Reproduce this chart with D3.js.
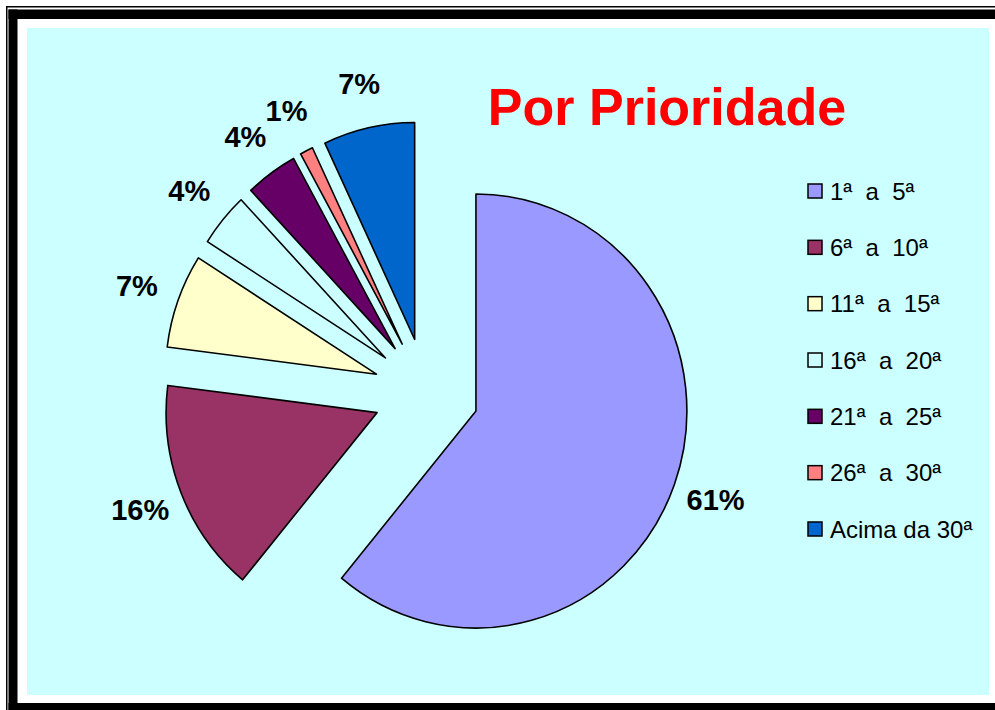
<!DOCTYPE html>
<html>
<head>
<meta charset="utf-8">
<script src="https://cdn.jsdelivr.net/npm/d3@7"></script>
<style>
  html, body { margin: 0; padding: 0; background: #ffffff; }
  svg { display: block; }
  text { font-family: Arial, "Liberation Sans", sans-serif; }
</style>
</head>
<body>
<div id="chart"></div>
<script>
// ---- data ----
const categories = ["1ª  a  5ª", "6ª  a  10ª", "11ª  a  15ª", "16ª  a  20ª", "21ª  a  25ª", "26ª  a  30ª", "Acima da 30ª"];
const values = [61, 16, 7, 4, 4, 1, 7];
const percentLabels = ["61%", "16%", "7%", "4%", "4%", "1%", "7%"];
const palette = ["#9999FF", "#993366", "#FFFFCC", "#CCFFFF", "#660066", "#FF8080", "#0066CC"];
const title = "Por Prioridade";

// ---- layout ----
const W = 995, H = 710;
const svg = d3.select("#chart").append("svg").attr("width", W).attr("height", H);
svg.append("rect").attr("width", W).attr("height", H).attr("fill", "#ffffff");

// double frame
const frame = svg.append("g").attr("fill", "#000");
frame.append("rect").attr("x", 6).attr("y", 6).attr("width", 1.5).attr("height", 720);
frame.append("rect").attr("x", 6).attr("y", 6).attr("width", 1000).attr("height", 1.5);
frame.append("rect").attr("x", 8.5).attr("y", 9.5).attr("width", 9).attr("height", 720);
frame.append("rect").attr("x", 8.5).attr("y", 9.5).attr("width", 1000).attr("height", 9.5);
frame.append("rect").attr("x", 8.5).attr("y", 703).attr("width", 1000).attr("height", 10);

// plot background
svg.append("rect").attr("x", 27).attr("y", 28).attr("width", 962).attr("height", 667).attr("fill", "#CCFFFF");

// title
svg.append("text").attr("x", 667).attr("y", 125).attr("text-anchor", "middle")
  .attr("font-size", 52).attr("font-weight", "bold").attr("fill", "#FF0000").text(title);

// pie
const cx = 426.2, cy = 392.6, sx = 0.972;
const R = 217, explode = 54.4, labelDist = 262;
const pie = d3.pie().sort(null).value(d => d);
const arcs = pie(values);
const arc = d3.arc().innerRadius(0).outerRadius(R);

const g = svg.append("g").attr("transform", `translate(${cx},${cy}) scale(${sx},1)`);
g.selectAll("path").data(arcs).enter().append("path")
  .attr("d", arc)
  .attr("transform", d => {
    const m = (d.startAngle + d.endAngle) / 2;
    return `translate(${Math.sin(m) * explode},${-Math.cos(m) * explode})`;
  })
  .attr("fill", (d, i) => palette[i])
  .attr("stroke", "#000")
  .attr("stroke-width", 1.6)
  .attr("stroke-linejoin", "round")
  .attr("vector-effect", "non-scaling-stroke");

svg.append("g").selectAll("text").data(arcs).enter().append("text")
  .attr("x", d => { const m = (d.startAngle + d.endAngle) / 2; return cx + sx * Math.sin(m) * (explode + labelDist); })
  .attr("y", d => { const m = (d.startAngle + d.endAngle) / 2; return cy - Math.cos(m) * (explode + labelDist); })
  .attr("text-anchor", "middle")
  .attr("dy", "0.36em")
  .attr("font-size", 29)
  .attr("font-weight", "bold")
  .attr("fill", "#000")
  .text((d, i) => percentLabels[i]);

// legend
const ly = d3.scalePoint().domain(categories).range([191, 529]);
const lg = svg.append("g");
const items = lg.selectAll("g").data(categories).enter().append("g")
  .attr("transform", d => `translate(808,${ly(d)})`);
items.append("rect").attr("x", 0).attr("y", -7).attr("width", 14).attr("height", 14)
  .attr("fill", (d, i) => palette[i]).attr("stroke", "#000").attr("stroke-width", 1.5);
items.append("text").attr("x", 22).attr("y", 8.5)
  .attr("font-size", 24).attr("fill", "#000")
  .style("white-space", "pre")
  .text(d => d);
</script>
</body>
</html>
